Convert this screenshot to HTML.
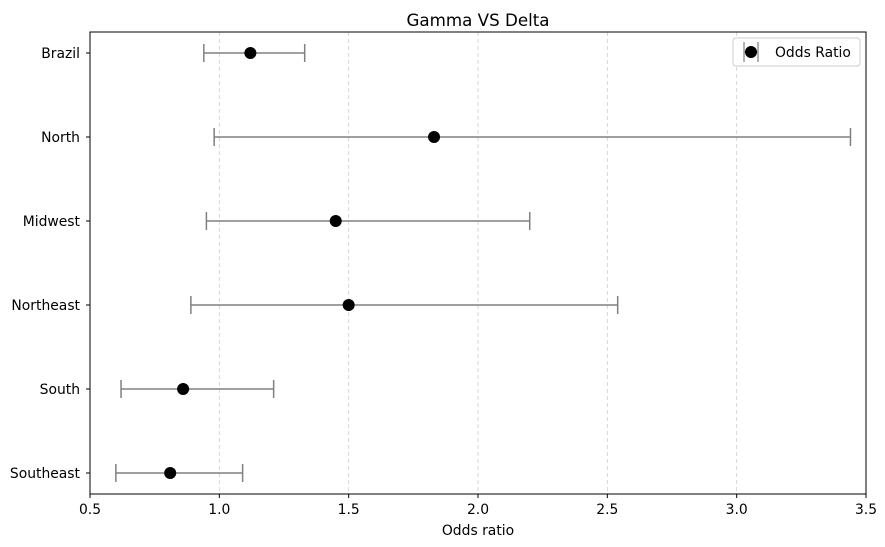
<!DOCTYPE html>
<html><head><meta charset="utf-8"><style>
body{margin:0;background:#fff;font-family:"DejaVu Sans","Liberation Sans",sans-serif}
</style></head><body>
<svg width="885" height="547" style="display:block;font-family:'DejaVu Sans','Liberation Sans',sans-serif">
<g id="plot"></g>
</svg>
<script>
const categories=["Southeast","South","Northeast","Midwest","North","Brazil"];
const oddsRatio=[0.81,0.86,1.50,1.45,1.83,1.12];
const ciLow=[0.60,0.62,0.89,0.95,0.98,0.94];
const ciHigh=[1.09,1.21,2.54,2.20,3.44,1.33];
const xTicks=[0.5,1.0,1.5,2.0,2.5,3.0,3.5];
const L=90,R=866,T=32,B=494,xmin=0.5,xmax=3.5,ymin=-0.25,ymax=5.25;
const xs=v=>L+(v-xmin)/(xmax-xmin)*(R-L);
const ys=v=>B-(v-ymin)/(ymax-ymin)*(B-T);
const NS="http://www.w3.org/2000/svg";
const g=document.getElementById('plot');
function el(t,a,txt){const e=document.createElementNS(NS,t);for(const k in a)e.setAttribute(k,a[k]);if(txt!=null)e.textContent=txt;g.appendChild(e);return e;}
xTicks.forEach(v=>{
 if(v>xmin&&v<xmax){const gl=el('line',{x1:xs(v),x2:xs(v),y1:T,y2:B,stroke:'#ccc','stroke-dasharray':'4,3','stroke-width':0.8});
 
 }
 const tk=el('line',{x1:xs(v),x2:xs(v),y1:B,y2:B+4,stroke:'#000'});
 
 
 const tl=el('text',{x:xs(v),y:B+20,'text-anchor':'middle','font-size':13.9},v.toFixed(1));
 
 
});
categories.forEach((c,i)=>{
 const y=ys(i);
 const tk=el('line',{x1:L-4,x2:L,y1:y,y2:y,stroke:'#000'});
 
 
 const tl=el('text',{x:L-10,y:y+5,'text-anchor':'end','font-size':13.9},c);
 
 
 const eb=el('path',{d:`M${xs(ciLow[i])},${y}H${xs(ciHigh[i])}M${xs(ciLow[i])},${y-9}V${y+9}M${xs(ciHigh[i])},${y-9}V${y+9}`,stroke:'#808080','stroke-width':1.5,fill:'none'});
 
 
 const pt=el('circle',{cx:xs(oddsRatio[i]),cy:y,r:6,fill:'#000'});
 
 
});
const fr=el('rect',{x:L,y:T,width:R-L,height:B-T,fill:'none',stroke:'#000','stroke-width':1});


const ti=el('text',{x:(L+R)/2,y:26,'text-anchor':'middle','font-size':16.7},'Gamma VS Delta');


const xl=el('text',{x:(L+R)/2,y:535,'text-anchor':'middle','font-size':13.9},'Odds ratio');


const lb=el('rect',{x:733,y:38,width:127,height:28,rx:3,fill:'#fff',stroke:'#ccc'});


const lm=el('path',{d:'M744,42V62M758,42V62M744,52H758',stroke:'#808080','stroke-width':1.2,fill:'none'});


const lc=el('circle',{cx:751,cy:52,r:6,fill:'#000'});


const lt=el('text',{x:775,y:57,'font-size':13.9},'Odds Ratio');


</script>
</body></html>
